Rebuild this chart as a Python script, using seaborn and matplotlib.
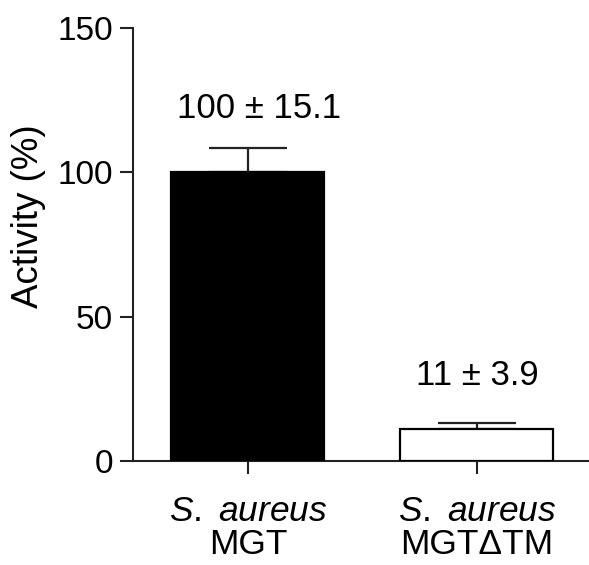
import matplotlib
matplotlib.use("Agg")
import matplotlib.pyplot as plt
import seaborn as sns
import pandas as pd

# values
strains = ["S. aureus\nMGT", "S. aureus\nMGT\u0394TM"]
activity = [100, 11]
err_up = [8.5, 2.3]
bar_labels = ["100 \u00b1 15.1", "11 \u00b1 3.9"]
bar_colors = ["black", "white"]

sns.set_style("ticks")
plt.rcParams["font.family"] = ["Liberation Sans", "DejaVu Sans"]
plt.rcParams["mathtext.fontset"] = "custom"
plt.rcParams["mathtext.it"] = "Liberation Sans:italic"
plt.rcParams["mathtext.rm"] = "Liberation Sans"
plt.rcParams["text.color"] = "black"
plt.rcParams["axes.labelcolor"] = "black"
plt.rcParams["xtick.color"] = "black"
plt.rcParams["ytick.color"] = "black"

df = pd.DataFrame({"strain": strains, "activity": activity})

fig = plt.figure(figsize=(5.89, 5.65), dpi=100)
ax = fig.add_axes([0.2258, 0.184, 0.7742, 0.7664])

sns.barplot(data=df, x="strain", y="activity", hue="strain",
            palette=bar_colors, edgecolor="black", linewidth=1.6,
            width=0.668, legend=False, ax=ax, zorder=3)

# upper error bars only
ax.errorbar(range(len(activity)), activity, yerr=[[0, 0], err_up],
            fmt="none", ecolor="#222222", elinewidth=1.6, capsize=28,
            capthick=1.6, zorder=2)

# mean +/- sd text above bars
offsets = [(8, 28), (0, 34)]
for i, (txt, off) in enumerate(zip(bar_labels, offsets)):
    ax.annotate(txt, xy=(i, activity[i] + err_up[i]), xytext=off,
                textcoords="offset points", ha="center", va="center",
                fontsize=25, color="black")

ax.set_ylim(0, 150)
ax.set_yticks([0, 50, 100, 150])
ax.set_xlim(-0.502, 1.49)
ax.set_xlabel("")
ax.set_ylabel("Activity (%)", fontsize=26.5, color="black")
ax.yaxis.set_label_coords(-0.19, 0.565)

ax.set_xticks([0, 1])
ax.set_xticklabels(["$\\it{S.\\ aureus}$\nMGT", "$\\it{S.\\ aureus}$\nMGT\u0394TM"],
                   linespacing=1.0, fontsize=25.5)
ax.tick_params(axis="both", length=9.5, width=1.5, color="#222222",
               labelcolor="black", direction="out")
ax.tick_params(axis="y", pad=5, labelsize=24)
ax.tick_params(axis="x", pad=15)

sns.despine(ax=ax, top=True, right=True)
for side in ["left", "bottom"]:
    ax.spines[side].set_linewidth(1.5)
    ax.spines[side].set_color("#222222")

fig.savefig("out.png", dpi=100)
